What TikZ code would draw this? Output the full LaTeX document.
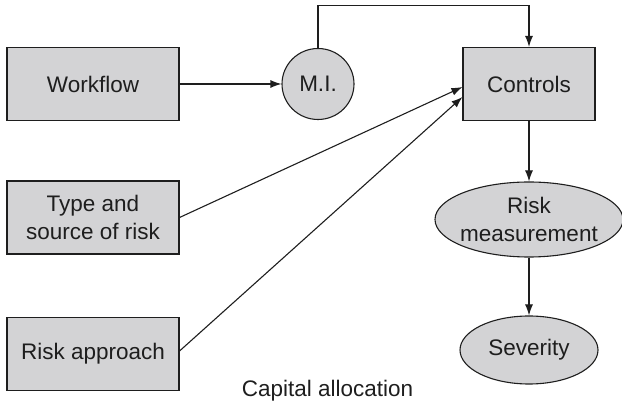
\documentclass[tikz,border=0pt]{standalone}
\usepackage{fontspec}
\setmainfont{Liberation Sans}
\usetikzlibrary{shapes.geometric,arrows.meta}

\definecolor{boxfill}{RGB}{211,211,213}
\definecolor{ink}{RGB}{30,30,30}

\tikzset{
  txt/.style={font=\fontsize{22.5pt}{28pt}\selectfont, text=ink, align=center},
  block/.style={txt, draw=ink, line width=1.1pt, fill=boxfill, rectangle,
                minimum width=172pt, minimum height=73pt, inner sep=0pt},
  oval/.style={txt, draw=ink, line width=1.1pt, fill=boxfill, ellipse,
               inner xsep=-5pt, inner ysep=0pt},
  link/.style={draw=ink, line width=1.1pt},
  arr/.style={link, -{Latex[length=11pt,width=8pt]}}
}

\begin{document}
\begin{tikzpicture}[x=1pt, y=-1pt]
  \useasboundingbox (0,0) rectangle (622,403);

  % left column of inputs
  \node[block] (wf)  at (93,84)    {Workflow};
  \node[block] (tsr) at (93,217.5) {Type and\\source of risk};
  \node[block] (ra)  at (93,354)   {Risk approach};

  % management information
  \node[oval, minimum width=72pt, minimum height=71pt] (mi) at (318,84) {M.I.};

  % right column
  \node[block, minimum width=132pt] (ctl) at (529,84) {Controls};
  \node[oval, minimum width=188pt, minimum height=75pt] (rm) at (529,219.5) {Risk\\measurement};
  \node[oval, minimum width=138pt, minimum height=68pt] (sev) at (529,350) {Severity};

  % caption
  \node[txt, anchor=base] (cap) at (327.5,397) {Capital allocation};

  % connectors
  \draw[arr] (wf.east) -- (mi.west);
  \draw[arr] (mi.north) -- ++(0,-42) -| (ctl.north);
  \draw[arr] (tsr.east) -- ([yshift=-3pt]ctl.west);
  \draw[arr] ([yshift=3pt]ra.east) -- ([yshift=-13pt]ctl.west);
  \draw[arr] (ctl.south) -- (rm.north);
  \draw[arr] (rm.south) -- (sev.north);
\end{tikzpicture}
\end{document}
